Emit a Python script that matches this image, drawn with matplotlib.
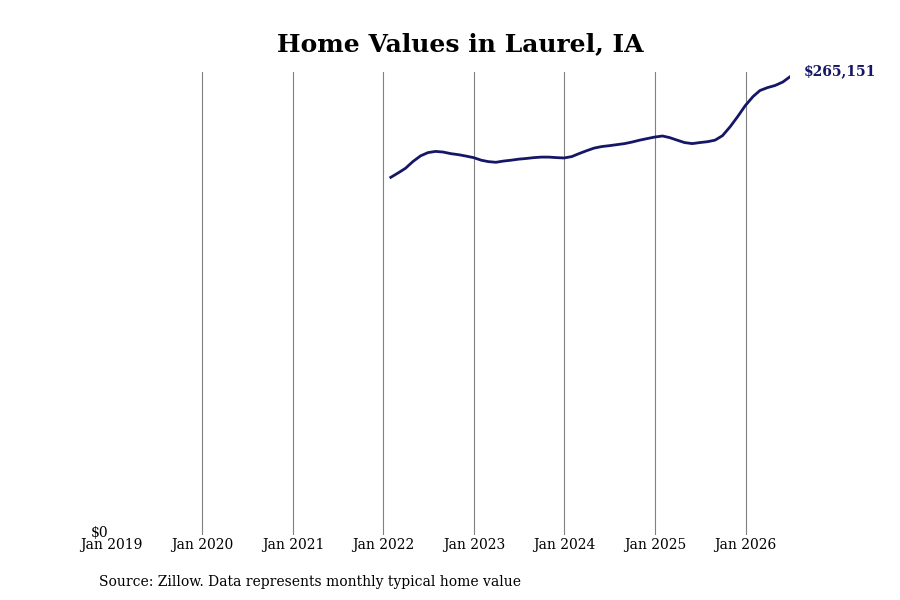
import numpy as np
import pandas as pd
import matplotlib.pyplot as plt
import matplotlib.transforms as mtransforms

plt.rcParams['font.family'] = 'DejaVu Serif'

# monthly typical home value, Jan 2022 - Jun 2026
dates = pd.date_range('2022-01-31', periods=54, freq='ME')
values = np.array([
    206900, 209300, 212100, 216000, 219300, 221200, 221900, 221500, 220600, 220000, 219200, 218300,
    216800, 216000, 215600, 216300, 216800, 217400, 217800, 218300, 218600, 218600, 218300, 218100,
    218900, 220600, 222300, 223800, 224700, 225200, 225800, 226400, 227300, 228400, 229300, 230200,
    230800, 229900, 228400, 227000, 226400, 227000, 227500, 228400, 231000, 236200, 242000, 248400,
    253600, 257100, 258800, 260000, 262000, 265151,
])
tick_dates = pd.date_range('2019-01-01', '2026-01-01', freq='YS')
tick_labels = [d.strftime('Jan %Y') for d in tick_dates]

fig = plt.figure(figsize=(9, 6), dpi=100)
ax = fig.add_axes([0.124, 0.108, 0.754, 0.772])

ax.plot(dates, values, color='#161666', linewidth=2)
ax.set_xlim(pd.Timestamp('2019-01-01'), dates[-1])
ax.set_ylim(0, values[-1] * 1.01)

ax.set_xticks(tick_dates)
ax.set_xticklabels(tick_labels, fontsize=10)
ax.set_yticks([0])
ax.set_yticklabels(['$0'], fontsize=10)
ax.tick_params(length=0, pad=2)
# lift the $0 label a little, it sits just above Jan 2019
shift = mtransforms.ScaledTranslation(0, 3 / 72, fig.dpi_scale_trans)
for lbl in ax.get_yticklabels():
    lbl.set_transform(lbl.get_transform() + shift)

ax.grid(axis='x', color='gray', linewidth=0.8)
ax.xaxis.get_gridlines()[0].set_visible(False)
ax.set_axisbelow(True)
for s in ax.spines.values():
    s.set_visible(False)

ax.annotate('${:,.0f}'.format(values[-1]), xy=(dates[-1], values[-1]),
            xytext=(10, 4), textcoords='offset points', fontsize=10,
            fontweight='bold', color='#161666', va='center', ha='left')

fig.text(0.512, 0.927, 'Home Values in Laurel, IA', ha='center', va='center',
         fontsize=18, fontweight='bold')
fig.text(0.11, 0.03, 'Source: Zillow. Data represents monthly typical home value',
         ha='left', va='center', fontsize=10)

fig.savefig('out.png', dpi=100)
